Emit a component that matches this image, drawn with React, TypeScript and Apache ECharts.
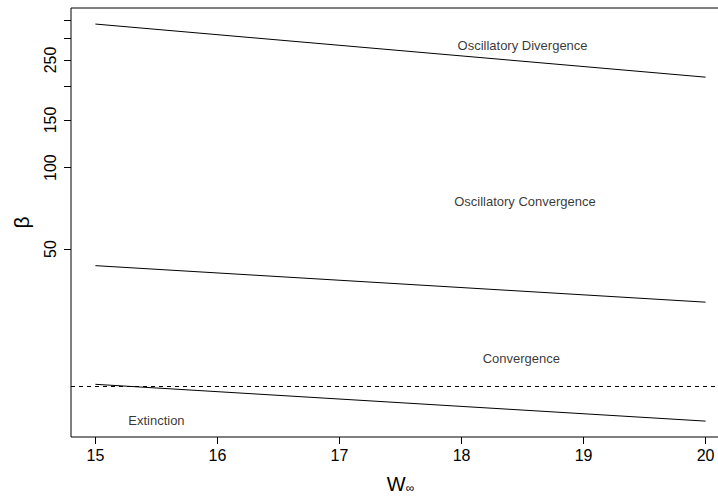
import React, { useEffect, useRef } from "react";
import * as echarts from "echarts";

// W-infinity values (x) at which each boundary is drawn
const wInf = [15, 20];
// Boundary curves (beta values, log scale)
const divergenceBoundary = [339.5, 216];
const convergenceBoundary = [43.4, 31.8];
const extinctionBoundary = [15.8, 11.55];
// Horizontal dashed threshold
const extinctionThreshold = 15.55;

// Region annotations
const regionLabels = ["Oscillatory Divergence", "Oscillatory Convergence", "Convergence", "Extinction"];
const regionX = [18.5, 18.52, 18.49, 15.5];
const regionY = [282, 74.8, 19.7, 11.6];

// Axis ticks
const xTicks = [15, 16, 17, 18, 19, 20];
const yTicks = [50, 100, 150, 200, 250, 300, 350];
const yTickLabels = [50, 100, 150, 250];

const xLim = [15, 20];
const yLim = [11.55, 340];

const FONT = '"Liberation Sans", Arial, Helvetica, sans-serif';
const lg = (v: number) => Math.log10(v);

export default function App() {
  const ref = useRef<HTMLDivElement>(null);
  useEffect(() => {
    if (!ref.current) return;
    const chart = echarts.init(ref.current, null, { renderer: "svg" });
    const xPad = (xLim[1] - xLim[0]) * 0.04;
    const ly0 = lg(yLim[0]);
    const ly1 = lg(yLim[1]);
    const yPad = (ly1 - ly0) * 0.04;
    const lineStyle = { color: "#000", width: 1 };
    const mkLine = (vals: number[]) => wInf.map((x, i) => [x, lg(vals[i])]);
    chart.setOption({
      animation: false,
      backgroundColor: "#fff",
      grid: {
        left: 71,
        top: 8,
        width: 659,
        height: 429,
        show: true,
        borderColor: "#000",
        borderWidth: 1,
        backgroundColor: "transparent",
        outerBoundsMode: "none",
        containLabel: false,
      },
      xAxis: {
        type: "value",
        min: xLim[0] - xPad,
        max: xLim[1] + xPad,
        splitLine: { show: false },
        axisLine: { show: false },
        axisTick: {
          show: true,
          inside: false,
          length: 7,
          lineStyle: { color: "#000", width: 1 },
          customValues: xTicks,
        },
        axisLabel: {
          show: true,
          customValues: xTicks,
          color: "#000",
          fontSize: 16,
          fontFamily: FONT,
          margin: 10,
          formatter: (v: number) => String(Math.round(v)),
        },
        name: "{w|W}{s|∞}",
        nameLocation: "middle",
        nameGap: 37,
        nameTextStyle: {
          rich: {
            w: { fontSize: 20, fontFamily: FONT, color: "#000" },
            s: { fontSize: 12, fontFamily: FONT, color: "#000", padding: [8, 0, 0, 0] },
          },
        },
      },
      yAxis: {
        type: "value",
        min: ly0 - yPad,
        max: ly1 + yPad,
        splitLine: { show: false },
        axisLine: { show: false },
        axisTick: {
          show: true,
          inside: false,
          length: 7,
          lineStyle: { color: "#000", width: 1 },
          customValues: yTicks.map(lg),
        },
        axisLabel: {
          show: true,
          customValues: yTickLabels.map(lg),
          rotate: 90,
          color: "#000",
          fontSize: 16,
          fontFamily: FONT,
          margin: 13,
          formatter: (v: number) => String(Math.round(Math.pow(10, v))),
        },
        name: "β",
        nameLocation: "middle",
        nameRotate: 90,
        nameGap: 39,
        nameTextStyle: { fontSize: 21, fontFamily: FONT, color: "#000" },
      },
      series: [
        {
          type: "line",
          data: mkLine(divergenceBoundary),
          symbol: "none",
          lineStyle,
          silent: true,
          markLine: {
            silent: true,
            symbol: ["none", "none"],
            label: { show: false },
            lineStyle: { color: "#000", width: 1, type: [4, 4] },
            data: [{ yAxis: lg(extinctionThreshold) }],
          },
        },
        { type: "line", data: mkLine(convergenceBoundary), symbol: "none", lineStyle, silent: true },
        { type: "line", data: mkLine(extinctionBoundary), symbol: "none", lineStyle, silent: true },
        {
          type: "scatter",
          symbolSize: 0,
          silent: true,
          data: regionLabels.map((name, i) => ({ name, value: [regionX[i], lg(regionY[i])] })),
          label: {
            show: true,
            position: "inside",
            formatter: (p: any) => p.name,
            color: "#000",
            fontSize: 13,
            fontFamily: FONT,
          },
        },
      ],
    });
    return () => chart.dispose();
  }, []);
  return (
    <div
      ref={ref}
      style={{ position: "fixed", left: 0, top: 0, width: 718, height: 496, background: "#fff" }}
    />
  );
}
